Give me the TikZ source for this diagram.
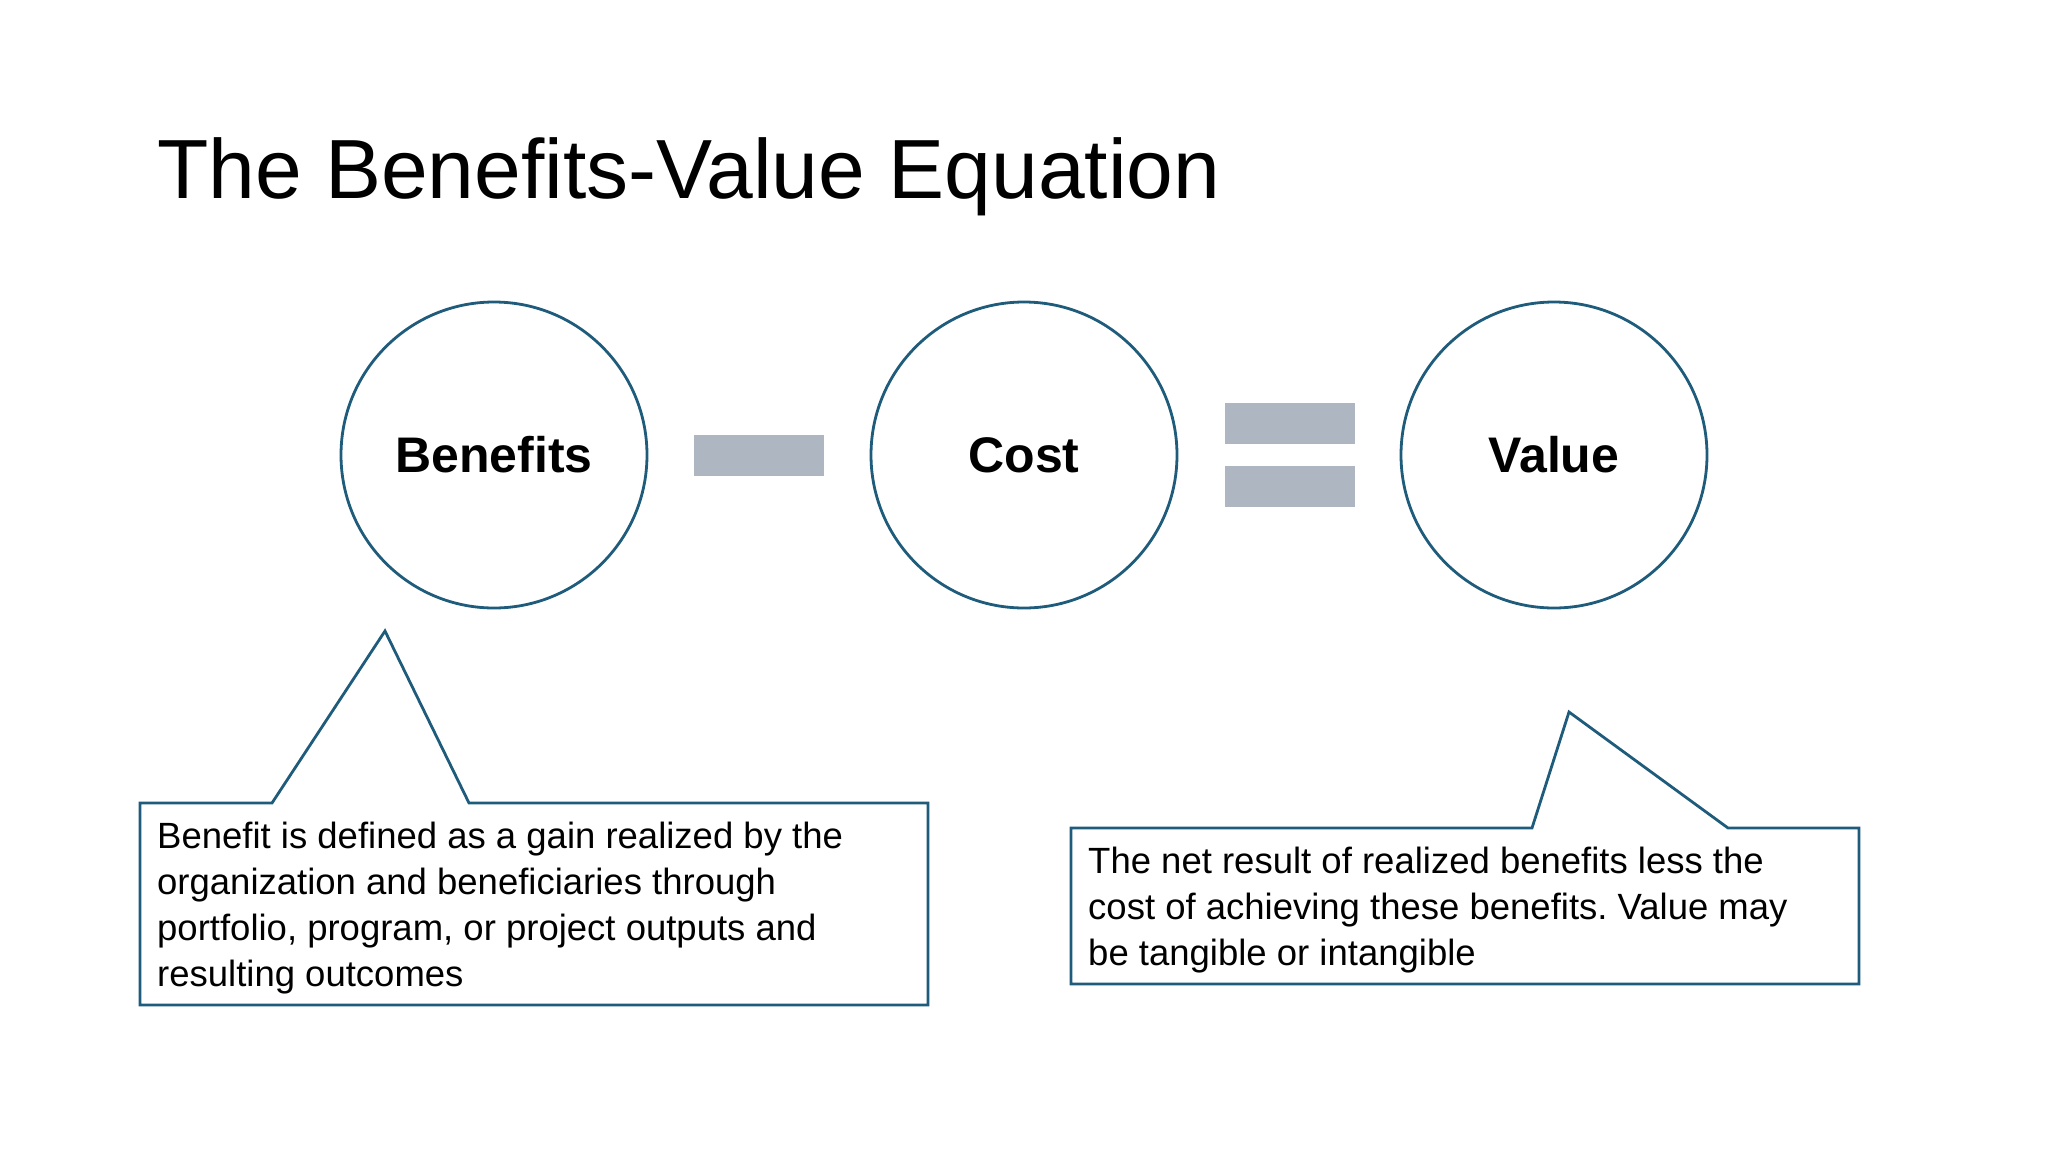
\documentclass[tikz,border=0pt]{standalone}
\usepackage{fontspec}
\setmainfont{Liberation Sans}
\usepackage{xcolor}
\usepackage{tikz}
\frenchspacing

\definecolor{ringblue}{HTML}{1F5B7B}
\definecolor{bargray}{HTML}{ADB6C1}

\begin{document}
\begin{tikzpicture}[
    x=1pt, y=-1pt,
    ring/.style={circle, draw=ringblue, line width=2.8pt, minimum size=306pt, inner sep=0pt,
        font=\fontsize{50}{60}\selectfont\bfseries},
    bar/.style={rectangle, fill=bargray, inner sep=0pt, minimum width=130pt, minimum height=41pt},
    callout/.style={draw=ringblue, line width=2.8pt, line join=miter},
    note/.style={anchor=north west, inner sep=0pt, align=left, font=\fontsize{36.5}{46}\selectfont}
]

\fill[white] (0,0) rectangle (2048,1152);
\useasboundingbox (0,0) rectangle (2048,1152);

\node[anchor=base west, inner sep=0pt, font=\fontsize{84}{100}\selectfont] (title) at (157,198)
    {The Benefits-Value Equation};

\node[ring] (benefits) at (494,455) {Benefits};
\node[ring] (cost) at (1024,455) {Cost};
\node[ring] (value) at (1554,455) {Value};

\node[bar] (minus) at (759,455) {};
\node[bar] (equaltop) at (1290,423.5) {};
\node[bar] (equalbottom) at (1290,486.5) {};

\draw[callout] (140,803) -- (272,803) -- (385,631) -- (469,803) -- (928,803)
    -- (928,1005) -- (140,1005) -- cycle;
\node[note] (benefitnote) at (157,822)
    {Benefit is defined as a gain realized by the\\
     organization and beneficiaries through\\
     portfolio, program, or project outputs and\\
     resulting outcomes};

\draw[callout] (1071,828) -- (1532,828) -- (1569,712) -- (1728,828) -- (1859,828)
    -- (1859,984) -- (1071,984) -- cycle;
\node[note] (valuenote) at (1088,847)
    {The net result of realized benefits less the\\
     cost of achieving these benefits. Value may\\
     be tangible or intangible};

\end{tikzpicture}
\end{document}
